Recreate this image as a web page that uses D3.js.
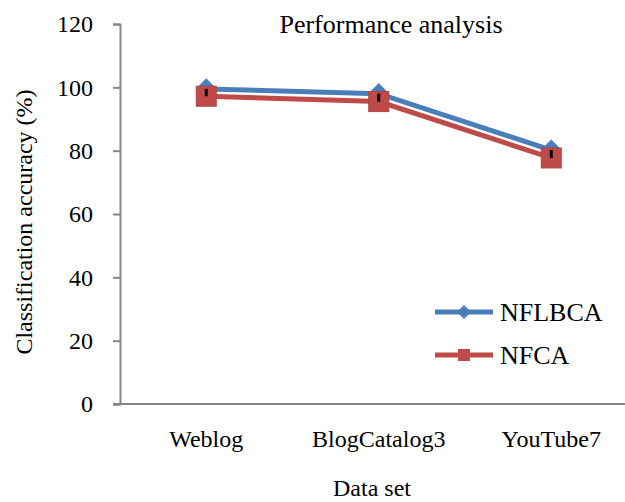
<!DOCTYPE html>
<html><head><meta charset="utf-8">
<script src="https://cdn.jsdelivr.net/npm/d3@7"></script>
<style>
body{margin:0;background:#fff;}
</style></head>
<body><svg id="c" width="625" height="502"></svg>
<script>
const categories = ["Weblog", "BlogCatalog3", "YouTube7"];
const nflbca = [99.5, 98.0, 80.2];
const nfca = [97.2, 95.5, 77.7];
const yTicks = [0, 20, 40, 60, 80, 100, 120];
const seriesNames = ["NFLBCA", "NFCA"];

const FONT = "'Liberation Serif', 'Times New Roman', serif";
const svg = d3.select("#c");
const x = d3.scalePoint().domain(categories).range([120, 637.5]).padding(0.5);
const y = d3.scaleLinear().domain([0, 120]).range([404, 24]);
const blue = "#4A7EBB", red = "#BE4B48", axisCol = "#868686";

// axes
const yAxis = svg.append("g").attr("transform", "translate(120,0)")
  .call(d3.axisLeft(y).tickValues(yTicks).tickSize(7).tickPadding(20).tickFormat(d3.format("d")));
yAxis.attr("font-family", null).attr("font-size", null);
yAxis.select(".domain").attr("stroke", axisCol).attr("stroke-width", 2);
yAxis.selectAll(".tick line").attr("stroke", axisCol).attr("stroke-width", 2);
yAxis.selectAll(".tick text").style("font-family", FONT).style("font-size", "24px").attr("fill", "#000");

svg.append("line").attr("x1", 113).attr("x2", 625).attr("y1", y(0)).attr("y2", y(0))
  .attr("stroke", axisCol).attr("stroke-width", 2);

svg.append("g").selectAll("text").data(categories).join("text")
  .attr("x", d => x(d)).attr("y", 447).attr("text-anchor", "middle")
  .style("font-family", FONT).style("font-size", "24px").text(d => d);

// titles
svg.append("text").attr("x", 391).attr("y", 33).attr("text-anchor", "middle")
  .style("font-family", FONT).style("font-size", "26px").text("Performance analysis");
svg.append("text").attr("x", 372).attr("y", 496).attr("text-anchor", "middle")
  .style("font-family", FONT).style("font-size", "24px").text("Data set");
svg.append("text").attr("transform", "translate(32,222) rotate(-90)")
  .attr("text-anchor", "middle").style("font-family", FONT).style("font-size", "24px")
  .text("Classification accuracy (%)");

// lines
const line = d3.line().x((d, i) => x(categories[i])).y(d => y(d));
svg.append("path").datum(nflbca).attr("d", line).attr("fill", "none")
  .attr("stroke", blue).attr("stroke-width", 5);
svg.append("path").datum(nfca).attr("d", line).attr("fill", "none")
  .attr("stroke", red).attr("stroke-width", 5);

// markers
svg.append("g").selectAll("path").data(nflbca).join("path")
  .attr("transform", (d, i) => `translate(${x(categories[i])},${y(d)}) rotate(45)`)
  .attr("d", "M-7.5,-7.5H7.5V7.5H-7.5Z").attr("fill", blue);
svg.append("g").selectAll("rect").data(nfca).join("rect")
  .attr("x", (d, i) => x(categories[i]) - 10).attr("y", d => y(d) - 10)
  .attr("width", 20).attr("height", 20).attr("fill", red).attr("stroke", "#B04440").attr("stroke-width", 1);

// high-low lines
svg.append("g").selectAll("line").data(categories).join("line")
  .attr("x1", d => x(d)).attr("x2", d => x(d))
  .attr("y1", (d, i) => y(nflbca[i])).attr("y2", (d, i) => y(nfca[i]))
  .attr("stroke", "#000").attr("stroke-width", 3);

// legend
const leg = svg.append("g");
const legY = [312, 355];
const cols = [blue, red];
seriesNames.forEach((n, i) => {
  leg.append("line").attr("x1", 435).attr("x2", 493).attr("y1", legY[i]).attr("y2", legY[i])
    .attr("stroke", cols[i]).attr("stroke-width", 5);
  if (i === 0) {
    leg.append("path").attr("transform", `translate(464,${legY[i]}) rotate(45)`)
      .attr("d", "M-5,-5H5V5H-5Z").attr("fill", blue);
  } else {
    leg.append("rect").attr("x", 458).attr("y", legY[i] - 6).attr("width", 12).attr("height", 12).attr("fill", red);
  }
  leg.append("text").attr("x", 500).attr("y", legY[i] + 9)
    .style("font-family", FONT).style("font-size", "26px").text(n);
});
</script></body></html>
